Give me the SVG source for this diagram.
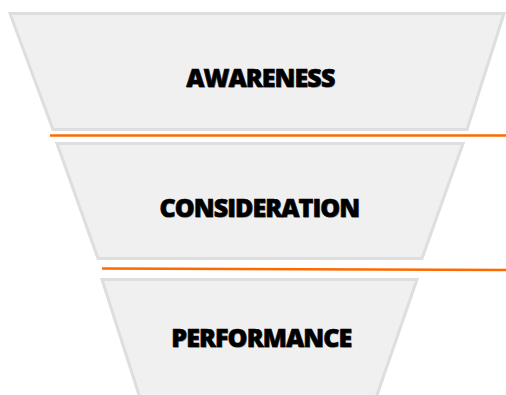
<svg xmlns="http://www.w3.org/2000/svg" width="506" height="395" viewBox="0 0 506 395">
<style>
.stage{fill:#f0f0f0;stroke:#dedede;stroke-width:3;stroke-linejoin:miter}
.lbl{font-family:"Open Sans","Liberation Sans",sans-serif;font-weight:800;font-size:25px;fill:#000;text-anchor:middle;letter-spacing:-0.9px}
.bold{stroke:#000;stroke-width:0.6px}
.sh{fill:#b8b8b8}
.sep{stroke:#ff6a00;stroke-width:2.5;fill:none}
</style>
<rect width="506" height="395" fill="#fff"/>
<g id="awareness">
<polygon class="stage" points="10,13.5 504,13.5 467,129.5 53,129.5"/>
<text class="lbl sh" x="261" y="88">AWARENESS</text>
<text class="lbl bold" x="260.3" y="87.3">AWARENESS</text>
</g>
<g id="consideration">
<polygon class="stage" points="57,143.5 463,143.5 422,258.5 98,258.5"/>
<text class="lbl sh" x="260" y="218">CONSIDERATION</text>
<text class="lbl bold" x="259.3" y="217.3">CONSIDERATION</text>
</g>
<g id="performance">
<polygon class="stage" points="102,279.5 417,279.5 376,398 140,398"/>
<text class="lbl sh" x="262" y="348">PERFORMANCE</text>
<text class="lbl bold" x="261.3" y="347.3">PERFORMANCE</text>
</g>
<g id="connectors">
<line class="sep" x1="50" y1="135.5" x2="506" y2="135.5"/>
<line class="sep" x1="102" y1="268.5" x2="506" y2="270"/>
</g>
</svg>
